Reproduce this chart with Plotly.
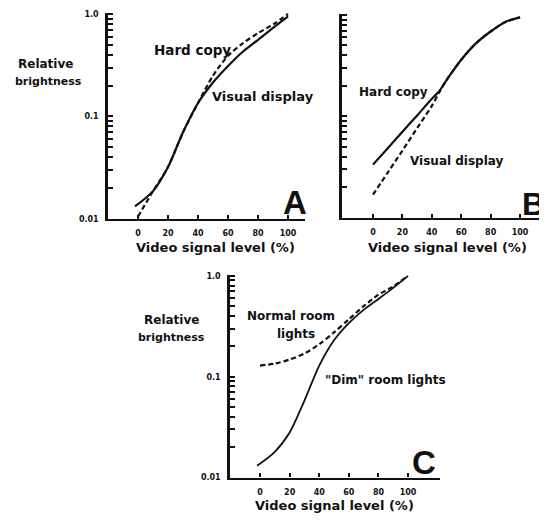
import plotly.graph_objects as go

# ---------------- data ----------------
# Panel A
a_hard_x = [0, 10, 20, 30, 40, 50, 60, 70, 80, 90, 100]
a_hard_y = [0.0105, 0.0186, 0.032, 0.070, 0.135, 0.25, 0.39, 0.52, 0.65, 0.79, 1.0]
a_vis_x = [-2, 10, 20, 30, 40, 50, 60, 70, 80, 90, 100]
a_vis_y = [0.0132, 0.0186, 0.032, 0.070, 0.135, 0.214, 0.31, 0.43, 0.56, 0.73, 0.95]
# Panel B
b_hard_x = [0, 10, 20, 30, 40, 45, 50, 60, 70, 80, 90, 100]
b_hard_y = [0.0334, 0.0485, 0.0705, 0.102, 0.149, 0.177, 0.228, 0.362, 0.525, 0.687, 0.853, 0.948]
b_vis_x = [0, 10, 20, 30, 40, 45, 50, 60, 70, 80, 90, 100]
b_vis_y = [0.0169, 0.0279, 0.046, 0.0766, 0.127, 0.172, 0.228, 0.362, 0.525, 0.687, 0.853, 0.948]
# Panel C
c_normal_x = [0, 10, 20, 30, 40, 50, 60, 70, 80, 90, 100]
c_normal_y = [0.129, 0.135, 0.148, 0.17, 0.21, 0.275, 0.37, 0.50, 0.65, 0.785, 1.0]
c_dim_x = [-2, 10, 20, 30, 40, 50, 60, 70, 80, 90, 100]
c_dim_y = [0.0131, 0.018, 0.028, 0.058, 0.129, 0.23, 0.34, 0.46, 0.59, 0.76, 1.0]

x_ticks = [0, 20, 40, 60, 80, 100]
x_tick_labels = ["0", "20", "40", "60", "80", "100"]
y_major = [0.01, 0.1, 1.0]
y_major_labels = ["0.01", "0.1", "1.0"]

# ---------------- layout helpers ----------------
# the page body has an 8px default margin, so the figure starts at (8, 8)
OFF = 8
W, H = 547 - OFF, 520 - OFF
def px(x):
    return (x - OFF) / W
def py(y):
    return 1 - (y - OFF) / H

FONT = "DejaVu Sans"
BLACK = "#111111"

y_tickvals = []
for dec in [0.01, 0.1]:
    for k in range(1, 10):
        y_tickvals.append(round(dec * k, 4))
y_tickvals.append(1.0)

def ytext(show):
    out = []
    for v in y_tickvals:
        if show and v in y_major:
            out.append(y_major_labels[y_major.index(v)])
        else:
            out.append("")
    return out

fig = go.Figure()

solid = dict(color=BLACK, width=2.2, shape="spline", smoothing=0.8)
dashed = dict(color=BLACK, width=2.2, dash="5px,3px", shape="spline", smoothing=0.8)

fig.add_trace(go.Scatter(x=a_vis_x, y=a_vis_y, mode="lines", line=solid, name="Visual display", xaxis="x", yaxis="y"))
fig.add_trace(go.Scatter(x=a_hard_x, y=a_hard_y, mode="lines", line=dashed, name="Hard copy", xaxis="x", yaxis="y"))
fig.add_trace(go.Scatter(x=b_hard_x, y=b_hard_y, mode="lines", line=solid, name="Hard copy", xaxis="x2", yaxis="y2"))
fig.add_trace(go.Scatter(x=b_vis_x, y=b_vis_y, mode="lines", line=dashed, name="Visual display", xaxis="x2", yaxis="y2"))
fig.add_trace(go.Scatter(x=c_dim_x, y=c_dim_y, mode="lines",
                         line=dict(color=BLACK, width=1.8, shape="spline", smoothing=0.8),
                         name='"Dim" room lights', xaxis="x3", yaxis="y3"))
fig.add_trace(go.Scatter(x=c_normal_x, y=c_normal_y, mode="lines", line=dashed, name="Normal room lights", xaxis="x3", yaxis="y3"))

def xaxis(domain, rng, anchor):
    return dict(domain=domain, range=rng, anchor=anchor, showgrid=False, zeroline=False,
                showline=True, linecolor=BLACK, linewidth=2.2,
                ticks="inside", ticklen=4, tickwidth=1.5, tickcolor=BLACK,
                tickvals=x_ticks, ticktext=x_tick_labels, ticklabelstandoff=6,
                tickfont=dict(family=FONT, size=8, color=BLACK, weight="bold"))

def yaxis(domain, anchor, show_labels):
    return dict(domain=domain, type="log", range=[-2, 0.01], anchor=anchor, showgrid=False,
                zeroline=False, showline=True, linecolor=BLACK, linewidth=2.5,
                ticks="inside", ticklen=5, tickwidth=1.5, tickcolor=BLACK,
                tickvals=y_tickvals, ticktext=ytext(show_labels), ticklabelstandoff=5,
                tickfont=dict(family=FONT, size=8, color=BLACK, weight="bold"))

fig.update_layout(
    width=W, height=H, margin=dict(l=0, r=0, t=0, b=0),
    paper_bgcolor="white", plot_bgcolor="white", showlegend=False,
    xaxis=xaxis([px(108), px(305)], [-20, 111.3], "y"),
    yaxis=yaxis([py(219), py(10)], "x", True),
    xaxis2=xaxis([px(342), px(543)], [-21.1, 115.6], "y2"),
    yaxis2=yaxis([py(218), py(11)], "x2", False),
    xaxis3=xaxis([px(230), px(440)], [-20.3, 121.6], "y3"),
    yaxis3=yaxis([py(482), py(276)], "x3", True),
)

ann = []
def text(t, x, y, size, xanchor="center", family=FONT):
    ann.append(dict(text=t, x=px(x), y=py(y), xref="paper", yref="paper", showarrow=False,
                    xanchor=xanchor, yanchor="middle",
                    font=dict(family=family, size=size, color=BLACK, weight="bold")))

# y titles
text("Relative", 45, 62, 12)
text("brightness", 48, 80, 11)
text("Relative", 171, 322, 12)
text("brightness", 171, 340, 11)
# x titles
text("Video signal level (%)", 215, 248, 13)
text("Video signal level (%)", 447, 248, 13)
text("Video signal level (%)", 334, 510, 13)
# curve labels
text("Hard copy", 152, 48, 13.5, "left")
text("Visual display", 210, 95, 13, "left")
text("Hard copy", 357, 90, 12, "left")
text("Visual display", 408, 160, 12, "left")
text("Normal room", 291, 318, 12)
text("lights", 296, 336, 12)
text('"Dim" room lights', 323, 383, 12, "left")
# panel letters
text("A", 295, 203, 33, family="Liberation Sans")
text("B", 533, 204, 32, family="Liberation Sans")
text("C", 424, 467, 33, family="Liberation Sans")

fig.update_layout(annotations=ann)
fig.write_html("out.html")
